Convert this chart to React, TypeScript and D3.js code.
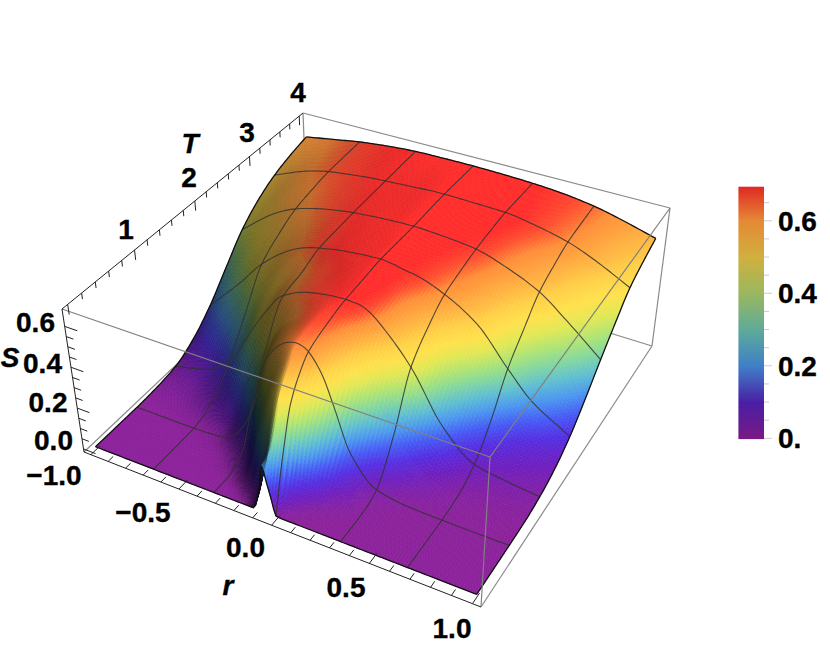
import React, { useEffect, useRef } from "react";
import * as d3 from "d3";

const rValues = [-1, -0.8, -0.667, -0.5, -0.42, -0.356, -0.295, -0.25, -0.2, -0.12, -0.08, -0.06, -0.04, -0.02, 0, 0.03, 0.07, 0.12, 0.2, 0.333, 0.5, 0.667, 0.8, 1];
const tValues = [0, 0.1, 0.2, 0.333, 0.5, 0.667, 1, 1.333, 1.667, 2, 2.333, 2.667, 3, 3.333, 3.667, 4];

const sT00 = [0, 0, 0, 0, 0, 0, 0, 0, 0, 0, 0.11, 0.22, 0.15, 0.075, 0.003, 0, 0, 0, 0, 0, 0, 0, 0, 0];
const sT01 = [0, 0, 0, 0, 0, 0, 0, 0, 0.005, 0.05, 0.17, 0.24, 0.27, 0.23, 0.15, 0.06, 0.015, 0.002, 0, 0, 0, 0, 0, 0];
const sT02 = [0, 0, 0, 0, 0, 0, 0, 0.01, 0.04, 0.2, 0.3, 0.35, 0.365, 0.34, 0.28, 0.17, 0.07, 0.02, 0.002, 0, 0, 0, 0, 0];
const sT03 = [0, 0, 0, 0, 0, 0.005, 0.02, 0.06, 0.18, 0.38, 0.45, 0.47, 0.475, 0.46, 0.43, 0.36, 0.24, 0.11, 0.02, 0.002, 0, 0, 0, 0];
const sT05 = [0, 0, 0, 0.002, 0.008, 0.03, 0.09, 0.2, 0.34, 0.5, 0.545, 0.555, 0.555, 0.545, 0.525, 0.48, 0.39, 0.25, 0.08, 0.008, 0, 0, 0, 0];
const sT07 = [0, 0, 0.001, 0.01, 0.055, 0.135, 0.265, 0.42, 0.515, 0.59, 0.605, 0.608, 0.605, 0.598, 0.585, 0.55, 0.485, 0.36, 0.16, 0.03, 0.005, 0.001, 0, 0];
const sT10 = [0.005, 0.015, 0.04, 0.15, 0.26, 0.37, 0.47, 0.53, 0.575, 0.62, 0.63, 0.632, 0.632, 0.63, 0.625, 0.615, 0.585, 0.525, 0.39, 0.19, 0.05, 0.012, 0.005, 0.002];
const sT13 = [0.02, 0.065, 0.145, 0.375, 0.48, 0.555, 0.59, 0.61, 0.625, 0.64, 0.645, 0.647, 0.648, 0.65, 0.65, 0.648, 0.645, 0.625, 0.56, 0.42, 0.185, 0.058, 0.035, 0.015];
const sT17 = [0.07, 0.18, 0.3, 0.49, 0.545, 0.585, 0.61, 0.625, 0.635, 0.65, 0.655, 0.657, 0.658, 0.66, 0.66, 0.66, 0.655, 0.645, 0.605, 0.52, 0.34, 0.17, 0.09, 0.045];
const sT20 = [0.155, 0.33, 0.46, 0.575, 0.61, 0.628, 0.64, 0.648, 0.655, 0.663, 0.666, 0.667, 0.668, 0.67, 0.67, 0.668, 0.662, 0.652, 0.638, 0.59, 0.495, 0.325, 0.205, 0.1];
const sT23 = [0.27, 0.44, 0.53, 0.602, 0.625, 0.638, 0.646, 0.652, 0.657, 0.663, 0.665, 0.666, 0.667, 0.668, 0.668, 0.667, 0.663, 0.657, 0.648, 0.618, 0.55, 0.425, 0.32, 0.185];
const sT27 = [0.385, 0.52, 0.58, 0.622, 0.635, 0.645, 0.65, 0.654, 0.658, 0.662, 0.664, 0.665, 0.665, 0.665, 0.665, 0.665, 0.663, 0.66, 0.655, 0.64, 0.59, 0.52, 0.43, 0.283];
const sT30 = [0.465, 0.565, 0.603, 0.632, 0.642, 0.649, 0.653, 0.656, 0.659, 0.664, 0.666, 0.667, 0.667, 0.667, 0.667, 0.667, 0.665, 0.663, 0.66, 0.652, 0.615, 0.565, 0.495, 0.375];
const sT33 = [0.52, 0.59, 0.62, 0.64, 0.648, 0.652, 0.655, 0.658, 0.66, 0.665, 0.667, 0.668, 0.668, 0.668, 0.668, 0.668, 0.667, 0.666, 0.664, 0.66, 0.635, 0.598, 0.55, 0.46];
const sT37 = [0.555, 0.6, 0.626, 0.644, 0.651, 0.655, 0.657, 0.659, 0.66, 0.663, 0.664, 0.664, 0.664, 0.664, 0.664, 0.664, 0.664, 0.663, 0.661, 0.656, 0.638, 0.61, 0.572, 0.505];
const sT40 = [0.58, 0.61, 0.63, 0.647, 0.653, 0.657, 0.659, 0.66, 0.66, 0.661, 0.661, 0.661, 0.661, 0.661, 0.661, 0.66, 0.66, 0.659, 0.657, 0.652, 0.64, 0.618, 0.59, 0.54];
const sRows = [sT00, sT01, sT02, sT03, sT05, sT07, sT10, sT13, sT17, sT20, sT23, sT27, sT30, sT33, sT37, sT40];

const meshR = [-0.667, -0.333, 0, 0.333, 0.667];
const meshT = [0.667, 1.333, 2, 2.667, 3.333];

const rTicks = d3.range(-10, 11).map((d) => d / 10);
const tTicks = d3.range(0, 21).map((d) => d / 5);
const sTicks = d3.range(0, 13).map((d) => d / 20);
const legendTicks = d3.range(0, 14).map((d) => d / 20);

const rLabels = [
  { text: "−1.0", x: 54, y: 475 },
  { text: "−0.5", x: 143, y: 512 },
  { text: "0.0", x: 245.5, y: 547 },
  { text: "0.5", x: 346, y: 587 },
  { text: "1.0", x: 452, y: 628 },
];
const tLabels = [
  { text: "1", x: 126, y: 229 },
  { text: "2", x: 189, y: 177 },
  { text: "3", x: 247, y: 132 },
  { text: "4", x: 298, y: 92 },
];
const sLabels = [
  { text: "0.6", x: 35.5, y: 322 },
  { text: "0.4", x: 42.5, y: 363 },
  { text: "0.2", x: 48, y: 402 },
  { text: "0.0", x: 53.5, y: 440 },
];
const legendLabels = [
  { text: "0.6", v: 0.6 },
  { text: "0.4", v: 0.4 },
  { text: "0.2", v: 0.2 },
  { text: "0.", v: 0 },
];

const colorStops = [0, 0.05, 0.1, 0.15, 0.2, 0.25, 0.3, 0.35, 0.4, 0.45, 0.5, 0.55, 0.6, 0.63, 0.65];
const surfaceColors = ["#8b209a", "#6e1ebe", "#552de1", "#465af5", "#4b96f0", "#5fbed2", "#82d7a0", "#afe473", "#e1e855", "#ffe14b", "#ffd046", "#ffb040", "#ff8e38", "#ff4a2e", "#ff2c2a"];
const legendStops = [0, 0.1, 0.2, 0.3, 0.4, 0.5, 0.6, 0.694];
const legendColors = ["#7a1a85", "#4a20a5", "#4080c8", "#5faa9a", "#9ab860", "#d0b040", "#e58a35", "#e02a25"];

// box corners on the page, floor and ceiling, in order (rMin,tMin) (rMax,tMin) (rMax,tMax) (rMin,tMax)
const floorQuad = [[84, 452], [481, 607], [652, 346], [308, 240]];
const roofQuad = [[62, 309], [490, 457], [670, 208], [303, 113]];

const uScale = d3.scaleLinear().domain([-1.04, 1.04]).range([0, 1]);
const vScale = d3.scaleLinear().domain([-0.08, 4.08]).range([0, 1]);
const wScale = d3.scaleLinear().domain([-0.015, 0.685]).range([0, 1]);

const surfaceColor = d3.scaleLinear<string>().domain(colorStops).range(surfaceColors).clamp(true);
const legendColor = d3.scaleLinear<string>().domain(legendStops).range(legendColors);
const legendY = d3.scaleLinear().domain([0, 0.694]).range([438.3, 186.7]);

const homography = (q: number[][]) => {
  const [[x0, y0], [x1, y1], [x2, y2], [x3, y3]] = q;
  const dx1 = x1 - x2, dx2 = x3 - x2, sx = x0 - x1 + x2 - x3;
  const dy1 = y1 - y2, dy2 = y3 - y2, sy = y0 - y1 + y2 - y3;
  const den = dx1 * dy2 - dx2 * dy1;
  const g = (sx * dy2 - dx2 * sy) / den;
  const h = (dx1 * sy - sx * dy1) / den;
  const a = x1 - x0 + g * x1, b = x3 - x0 + h * x3;
  const d = y1 - y0 + g * y1, e = y3 - y0 + h * y3;
  return (u: number, v: number) => {
    const w = g * u + h * v + 1;
    return [(a * u + b * v + x0) / w, (d * u + e * v + y0) / w];
  };
};
const floorH = homography(floorQuad);
const roofH = homography(roofQuad);

const project = (r: number, t: number, s: number): [number, number] => {
  const u = uScale(r), v = vScale(t), w = wScale(s);
  const p = floorH(u, v), q = roofH(u, v);
  return [p[0] + (q[0] - p[0]) * w, p[1] + (q[1] - p[1]) * w];
};

// monotone cubic through the read values, so the shading has no kinks
const monotone = (xs: number[], ys: number[]) => {
  const n = xs.length;
  const sec = d3.range(n - 1).map((i) => (ys[i + 1] - ys[i]) / (xs[i + 1] - xs[i]));
  const m = xs.map((_, i) => {
    if (i === 0) return sec[0];
    if (i === n - 1) return sec[n - 2];
    if (sec[i - 1] * sec[i] <= 0) return 0;
    return (2 * sec[i - 1] * sec[i]) / (sec[i - 1] + sec[i]);
  });
  return (x: number) => {
    const i = Math.min(n - 2, Math.max(0, d3.bisectRight(xs, x) - 1));
    const h = xs[i + 1] - xs[i];
    const a = (x - xs[i]) / h;
    const a2 = a * a, a3 = a2 * a;
    return (2 * a3 - 3 * a2 + 1) * ys[i] + (a3 - 2 * a2 + a) * h * m[i] + (-2 * a3 + 3 * a2) * ys[i + 1] + (a3 - a2) * h * m[i + 1];
  };
};

// split each grid step so no drawn cell is wider than maxStep
const refine = (xs: number[], maxStep: (x: number) => number) => {
  const out: number[] = [];
  xs.slice(0, -1).forEach((x, i) => {
    const n = Math.ceil((xs[i + 1] - x) / maxStep(x));
    for (let k = 0; k < n; k++) out.push(x + ((xs[i + 1] - x) * k) / n);
  });
  out.push(xs[xs.length - 1]);
  return out;
};

const fineR = refine(rValues, () => 0.016);
const fineT = refine(tValues, (t) => (t < 1 ? 0.012 : 0.03));
const columns = rValues.map((_, j) => monotone(tValues, sRows.map((row) => row[j])));
const rowAt = (t: number) => monotone(rValues, columns.map((c) => c(t)));
const sAt = (r: number, t: number) => Math.max(0, rowAt(t)(r));

const App = () => {
  const surfaceRef = useRef<SVGGElement>(null);

  useEffect(() => {
    const grid = fineT.map((t) => {
      const f = rowAt(t);
      return fineR.map((r) => Math.max(0, f(r)));
    });
    const cols = fineR.length - 1, rows = fineT.length - 1;
    // slope across r, blurred so the shade has no streaks
    const slopes = new Float64Array(cols * rows);
    for (let k = 0; k < rows; k++) {
      for (let i = 0; i < cols; i++) {
        slopes[k * cols + i] = (grid[k][i + 1] + grid[k + 1][i + 1] - grid[k][i] - grid[k + 1][i]) / 2 / (fineR[i + 1] - fineR[i]);
      }
    }
    d3.blur2({ data: slopes, width: cols, height: rows }, 1.5, 3);

    const cells: { d: string; fill: string }[] = [];
    // back to front: high T first, low r first
    for (let k = rows - 1; k >= 0; k--) {
      for (let i = 0; i < cols; i++) {
        const r0 = fineR[i], r1 = fineR[i + 1], t0 = fineT[k], t1 = fineT[k + 1];
        const corners = [
          project(r0, t0, grid[k][i]),
          project(r1, t0, grid[k][i + 1]),
          project(r1, t1, grid[k + 1][i + 1]),
          project(r0, t1, grid[k + 1][i]),
        ];
        const mean = (grid[k][i] + grid[k][i + 1] + grid[k + 1][i] + grid[k + 1][i + 1]) / 4;
        const shade = 1 / (1 + 1.35 * Math.max(0, slopes[k * cols + i]));
        const c = d3.rgb(surfaceColor(mean));
        const fill = d3.rgb(c.r * shade, c.g * shade, c.b * shade).formatHex();
        cells.push({ d: "M" + corners.map((p) => p.map((v) => v.toFixed(1)).join(",")).join("L") + "Z", fill });
      }
    }
    d3.select(surfaceRef.current)
      .selectAll("path")
      .data(cells)
      .join("path")
      .attr("d", (c) => c.d)
      .attr("fill", (c) => c.fill)
      .attr("stroke", (c) => c.fill)
      .attr("stroke-width", 0.6);
  }, []);

  const line = d3.line();
  const rLine = (r: number) => line(fineT.map((t) => project(r, t, sAt(r, t))));
  const tLine = (t: number) => line(fineR.map((r) => project(r, t, sAt(r, t))));

  const seg = (a: number[], b: number[]) => line([a as [number, number], b as [number, number]]);
  const font = { fontFamily: "'Liberation Sans', Arial, sans-serif", fontWeight: 700, fontSize: 28, stroke: "#000", strokeWidth: 0.35 };
  const axisR = uScale.domain()[0], axisT = vScale.domain()[0];
  const sLow = wScale.domain()[0], sHigh = wScale.domain()[1];

  return (
    <svg width={830} height={659} style={{ position: "absolute", left: 0, top: 0, display: "block" }}>
      <g stroke="#8a8a8a" strokeWidth={1.2} fill="none">
        <path d={seg(floorQuad[0], floorQuad[3])!} />
        <path d={seg(floorQuad[3], floorQuad[2])!} />
        <path d={seg(floorQuad[3], roofQuad[3])!} />
        <path d={seg(roofQuad[3], roofQuad[2])!} />
        <path d={seg(roofQuad[2], floorQuad[2])!} />
        <path d={seg(floorQuad[1], floorQuad[2])!} />
      </g>
      <g ref={surfaceRef} />
      <g fill="none" stroke="#333" strokeOpacity={0.85} strokeWidth={1.1}>
        {meshT.map((t) => <path key={t} d={tLine(t)!} />)}
        {meshR.map((r) => <path key={r} d={rLine(r)!} />)}
      </g>
      <g fill="none" stroke="#111" strokeWidth={1.3}>
        <path d={tLine(0)!} />
        <path d={tLine(4)!} />
        <path d={rLine(-1)!} />
        <path d={rLine(1)!} />
      </g>
      <g stroke="#808080" strokeWidth={1.2} fill="none">
        <path d={seg(roofQuad[0], roofQuad[1])!} />
        <path d={seg(roofQuad[1], roofQuad[2])!} />
        <path d={seg(floorQuad[1], roofQuad[1])!} />
      </g>
      <g stroke="#222" strokeWidth={1} fill="none">
        <path d={seg(floorQuad[0], floorQuad[1])!} />
        <path d={seg(floorQuad[0], roofQuad[0])!} />
        <path d={seg(roofQuad[0], roofQuad[3])!} />
        {rTicks.map((r) => {
          const major = Math.abs(r * 2 - Math.round(r * 2)) < 1e-6;
          return <path key={r} d={seg(project(r, axisT, sLow), project(r, axisT + (major ? 0.14 : 0.08), sLow))!} />;
        })}
        {tTicks.map((t) => {
          const major = Number.isInteger(t);
          return <path key={t} d={seg(project(axisR, t, sHigh), project(axisR, t, sHigh - (major ? 0.05 : 0.03)))!} />;
        })}
        {sTicks.map((s) => {
          const major = Math.abs(s * 5 - Math.round(s * 5)) < 1e-6;
          return <path key={s} d={seg(project(axisR, axisT, s), project(axisR + (major ? 0.07 : 0.04), axisT, s))!} />;
        })}
      </g>
      <g {...font} textAnchor="middle" fill="#000">
        {rLabels.concat(tLabels, sLabels).map((l) => (
          <text key={l.text + l.x} x={l.x} y={l.y} dy="0.36em">{l.text}</text>
        ))}
        <text x={228} y={585} dy="0.36em" fontStyle="italic">r</text>
        <text x={190} y={143} dy="0.36em" fontStyle="italic">T</text>
        <text x={10} y={357} dy="0.36em" fontStyle="italic">S</text>
      </g>
      <g>
        {d3.range(0, 252).map((i) => {
          const v = legendY.invert(186.7 + i);
          return <rect key={i} x={738.5} y={186.7 + i} width={25.5} height={1.4} fill={legendColor(v)} />;
        })}
        {legendTicks.map((v) => (
          <path key={v} d={seg([764, legendY(v)], [Math.abs(v * 5 - Math.round(v * 5)) < 1e-6 ? 772 : 769, legendY(v)])!} stroke="#ccc" />
        ))}
        {legendLabels.map((l) => (
          <text key={l.text} {...font} x={778} y={legendY(l.v)} dy="0.36em">{l.text}</text>
        ))}
      </g>
    </svg>
  );
};

export default App;
